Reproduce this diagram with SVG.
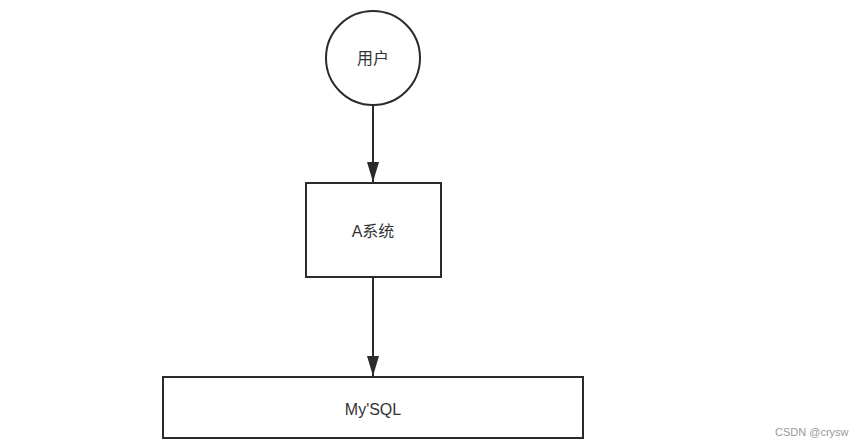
<svg xmlns="http://www.w3.org/2000/svg" width="860" height="448" viewBox="0 0 860 448">
<style>
.shape{fill:#fff;stroke:#2b2b2b;stroke-width:2}
.lbl{font-family:"Liberation Sans","Noto Sans CJK SC",sans-serif;font-size:16px;fill:#333;text-anchor:middle;dominant-baseline:central}
.edge{stroke:#2b2b2b;stroke-width:2;fill:none}
.wm{font-family:"Liberation Sans",Arial,sans-serif;font-size:11px;fill:#999}
</style>
<defs>
<marker id="arr" viewBox="0 0 20 12" refX="20" refY="6" markerWidth="10" markerHeight="6" orient="auto" markerUnits="strokeWidth">
<path d="M0,0 L20,6 L0,12 Z" fill="#2b2b2b"/>
</marker>
</defs>
<rect width="860" height="448" fill="#fff"/>
<g id="connectors">
<line class="edge" x1="373" y1="106" x2="373" y2="182" marker-end="url(#arr)"/>
<line class="edge" x1="373" y1="277" x2="373" y2="376" marker-end="url(#arr)"/>
</g>
<g id="user">
<circle class="shape" cx="373" cy="58" r="47"/>
<text class="lbl" x="373" y="58">用户</text>
</g>
<g id="systemA">
<rect class="shape" x="306" y="183" width="135" height="94"/>
<text class="lbl" x="373" y="231">A系统</text>
</g>
<g id="mysql">
<rect class="shape" x="163" y="377" width="420" height="61"/>
<text class="lbl" x="373" y="409">My'SQL</text>
</g>
<text class="wm" x="775" y="436">CSDN @crysw</text>
</svg>
